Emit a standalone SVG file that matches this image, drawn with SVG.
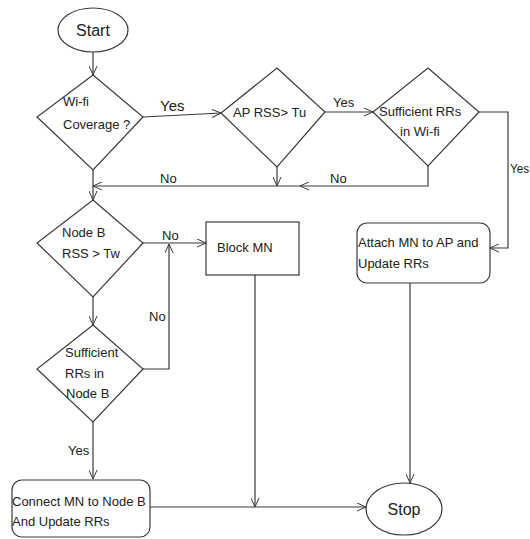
<svg xmlns="http://www.w3.org/2000/svg" width="530" height="539" viewBox="0 0 530 539">
<style>
.s{fill:#fff;stroke:#3a3a3a;stroke-width:1.2}
.c{fill:none;stroke:#3a3a3a;stroke-width:1.2}
text{font-family:"Liberation Sans",Arial,sans-serif;font-size:13px;fill:#222}
.big{font-size:16px}
</style>
<defs>
<marker id="a" viewBox="0 0 10 10" refX="10" refY="5" markerWidth="9" markerHeight="9" markerUnits="userSpaceOnUse" orient="auto">
<path d="M0,0.5 L10,5 L0,9.5" fill="none" stroke="#3a3a3a" stroke-width="1.1"/>
</marker>
</defs>
<rect width="530" height="539" fill="#fff"/>
<g id="connectors">
<path class="c" d="M93,52 L93,75" marker-end="url(#a)"/>
<path class="c" d="M143,117 L221,113" marker-end="url(#a)"/>
<path class="c" d="M325,112 L373,112" marker-end="url(#a)"/>
<path class="c" d="M479,112 L508,112 L508,248 L490,248" marker-end="url(#a)"/>
<path class="c" d="M277,167 L277,186" marker-end="url(#a)"/>
<path class="c" d="M428,166 L428,186 L300,186" marker-end="url(#a)"/>
<path class="c" d="M300,186 L93,186" marker-end="url(#a)"/>
<path class="c" d="M93,170 L93,200" marker-end="url(#a)"/>
<path class="c" d="M143,243 L206,243" marker-end="url(#a)"/>
<path class="c" d="M93,297 L93,325" marker-end="url(#a)"/>
<path class="c" d="M143,369 L169,369 L169,244" marker-end="url(#a)"/>
<path class="c" d="M93,422 L93,479" marker-end="url(#a)"/>
<path class="c" d="M255,275 L255,507" marker-end="url(#a)"/>
<path class="c" d="M150,507 L366,507" marker-end="url(#a)"/>
<path class="c" d="M410,283 L410,483" marker-end="url(#a)"/>
<text x="160" y="111" style="font-size:15px">Yes</text>
<text x="333" y="107">Yes</text>
<text x="510" y="173" style="font-size:12px" textLength="19" lengthAdjust="spacingAndGlyphs">Yes</text>
<text x="330" y="183">No</text>
<text x="160" y="183">No</text>
<text x="162" y="240">No</text>
<text x="149" y="321">No</text>
<text x="68" y="455">Yes</text>
</g>
<g id="start">
<ellipse class="s" cx="93" cy="30" rx="35" ry="22"/>
<text x="93" y="36" class="big" text-anchor="middle">Start</text>
</g>
<g id="wifi">
<polygon class="s" points="93,75 143,117 93,170 37,117"/>
<text x="63" y="106">Wi-fi</text>
<text x="63" y="129">Coverage ?</text>
</g>
<g id="aprss">
<polygon class="s" points="277,68 325,112 277,167 221,113"/>
<text x="233" y="117">AP RSS&gt; Tu</text>
</g>
<g id="suffwifi">
<polygon class="s" points="428,68 479,112 428,166 373,112"/>
<text x="379" y="116">Sufficient RRs</text>
<text x="400" y="136">in Wi-fi</text>
</g>
<g id="nodeb">
<polygon class="s" points="93,200 143,243 93,297 37,243"/>
<text x="62" y="237">Node B</text>
<text x="62" y="258">RSS &gt; Tw</text>
</g>
<g id="blockmn">
<rect class="s" x="206" y="222" width="93" height="53"/>
<text x="217" y="252">Block MN</text>
</g>
<g id="suffnodeb">
<polygon class="s" points="93,325 143,369 93,422 37,369"/>
<text x="65" y="357">Sufficient</text>
<text x="65" y="378">RRs in</text>
<text x="66" y="398">Node B</text>
</g>
<g id="attach">
<rect class="s" x="357" y="223" width="133" height="60" rx="10" ry="10"/>
<text x="358" y="247">Attach MN to AP and</text>
<text x="358" y="268">Update RRs</text>
</g>
<g id="connect">
<rect class="s" x="12" y="480" width="138" height="57" rx="10" ry="10"/>
<text x="12" y="506">Connect MN to Node B</text>
<text x="12" y="526">And Update RRs</text>
</g>
<g id="stop">
<ellipse class="s" cx="404" cy="509" rx="38" ry="26"/>
<text x="404" y="515" class="big" text-anchor="middle">Stop</text>
</g>
</svg>
